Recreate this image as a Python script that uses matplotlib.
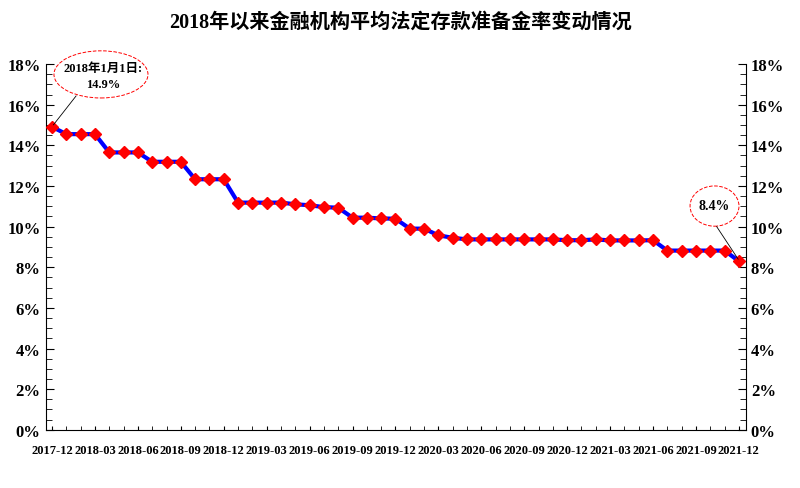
import numpy as np
import matplotlib
matplotlib.use('Agg')
import matplotlib.pyplot as plt
from matplotlib.patches import Ellipse
from matplotlib.ticker import FuncFormatter, MultipleLocator

plt.rcParams['font.family'] = ['Liberation Serif', 'Noto Sans CJK SC']
plt.rcParams['font.weight'] = 'bold'

judul = '2018年以来金融机构平均法定存款准备金率变动情况'

# monthly points, 2017-12 .. 2021-12
bulan = ['2017-12', '2018-01', '2018-02', '2018-03', '2018-04', '2018-05', '2018-06',
         '2018-07', '2018-08', '2018-09', '2018-10', '2018-11', '2018-12',
         '2019-01', '2019-02', '2019-03', '2019-04', '2019-05', '2019-06',
         '2019-07', '2019-08', '2019-09', '2019-10', '2019-11', '2019-12',
         '2020-01', '2020-02', '2020-03', '2020-04', '2020-05', '2020-06',
         '2020-07', '2020-08', '2020-09', '2020-10', '2020-11', '2020-12',
         '2021-01', '2021-02', '2021-03', '2021-04', '2021-05', '2021-06',
         '2021-07', '2021-08', '2021-09', '2021-10', '2021-11', '2021-12']
rasio = [14.91, 14.55, 14.55, 14.55, 13.65, 13.65, 13.65, 13.19, 13.19, 13.19,
         12.33, 12.33, 12.33, 11.18, 11.18, 11.18, 11.18, 11.10, 11.05, 10.96,
         10.93, 10.44, 10.44, 10.40, 10.39, 9.90, 9.90, 9.57, 9.45, 9.37,
         9.37, 9.37, 9.37, 9.37, 9.37, 9.37, 9.33, 9.33, 9.37, 9.32,
         9.32, 9.32, 9.33, 8.82, 8.82, 8.82, 8.82, 8.82, 8.30]

label_awal = '2018年1月1日:\n14.9%'
label_akhir = '8.4%'

ind = np.arange(len(bulan))

fig = plt.figure(figsize=(8, 4.89), dpi=100)
ax = fig.add_axes([0.057, 0.119, 0.8755, 0.748])

ax.plot(ind, rasio, color='blue', linewidth=3, marker='D', markersize=6,
        markerfacecolor='red', markeredgecolor='red', zorder=3)

ax.set_xlim(-0.45, 48.5)
ax.set_ylim(0, 18)
ax.yaxis.set_major_locator(MultipleLocator(2))
ax.yaxis.set_minor_locator(MultipleLocator(0.5))
ax.yaxis.set_major_formatter(FuncFormatter(lambda v, pos: '{:d}%'.format(int(round(v)))))

ax.set_xticks(ind[::3])
ax.set_xticklabels(bulan[::3], fontsize=9)
ax.set_xticks(ind, minor=True)

ax.tick_params(axis='y', which='both', direction='in', left=True, right=True,
               labelleft=True, labelright=True, labelsize=12)
ax.tick_params(axis='y', which='major', length=6)
ax.tick_params(axis='y', which='minor', length=4)
ax.tick_params(axis='x', which='both', direction='in', length=3, pad=10)
for t in ax.yaxis.get_major_ticks():
    t.label1.set_fontweight('bold')
    t.label2.set_fontweight('bold')

ax.spines['top'].set_visible(False)

# callouts: dashed red ellipses with thin leader lines
ax.add_patch(Ellipse((3.42, 17.49), 6.57, 2.32, fill=False, ec='red', ls='--',
                     lw=0.7, clip_on=False, zorder=4))
ax.text(3.55, 17.4, label_awal, ha='center', va='center', fontsize=9,
        linespacing=1.5, zorder=5)
ax.plot([ind[0] + 0.1, 1.68], [rasio[0] + 0.1, 16.43], color='black', lw=0.6,
        clip_on=False, zorder=4)

ax.add_patch(Ellipse((46.3, 11.01), 3.42, 1.98, fill=False, ec='red', ls='--',
                     lw=0.7, clip_on=False, zorder=4))
ax.text(46.3, 11.05, label_akhir, ha='center', va='center', fontsize=10, zorder=5)
ax.plot([46.45, ind[-1] - 0.05], [10.0, rasio[-1] + 0.1], color='black', lw=0.6,
        clip_on=False, zorder=4)

fig.suptitle(judul, y=0.975, fontsize=14.5, fontweight='bold')

plt.savefig('out.png', dpi=100)
plt.close(fig)
